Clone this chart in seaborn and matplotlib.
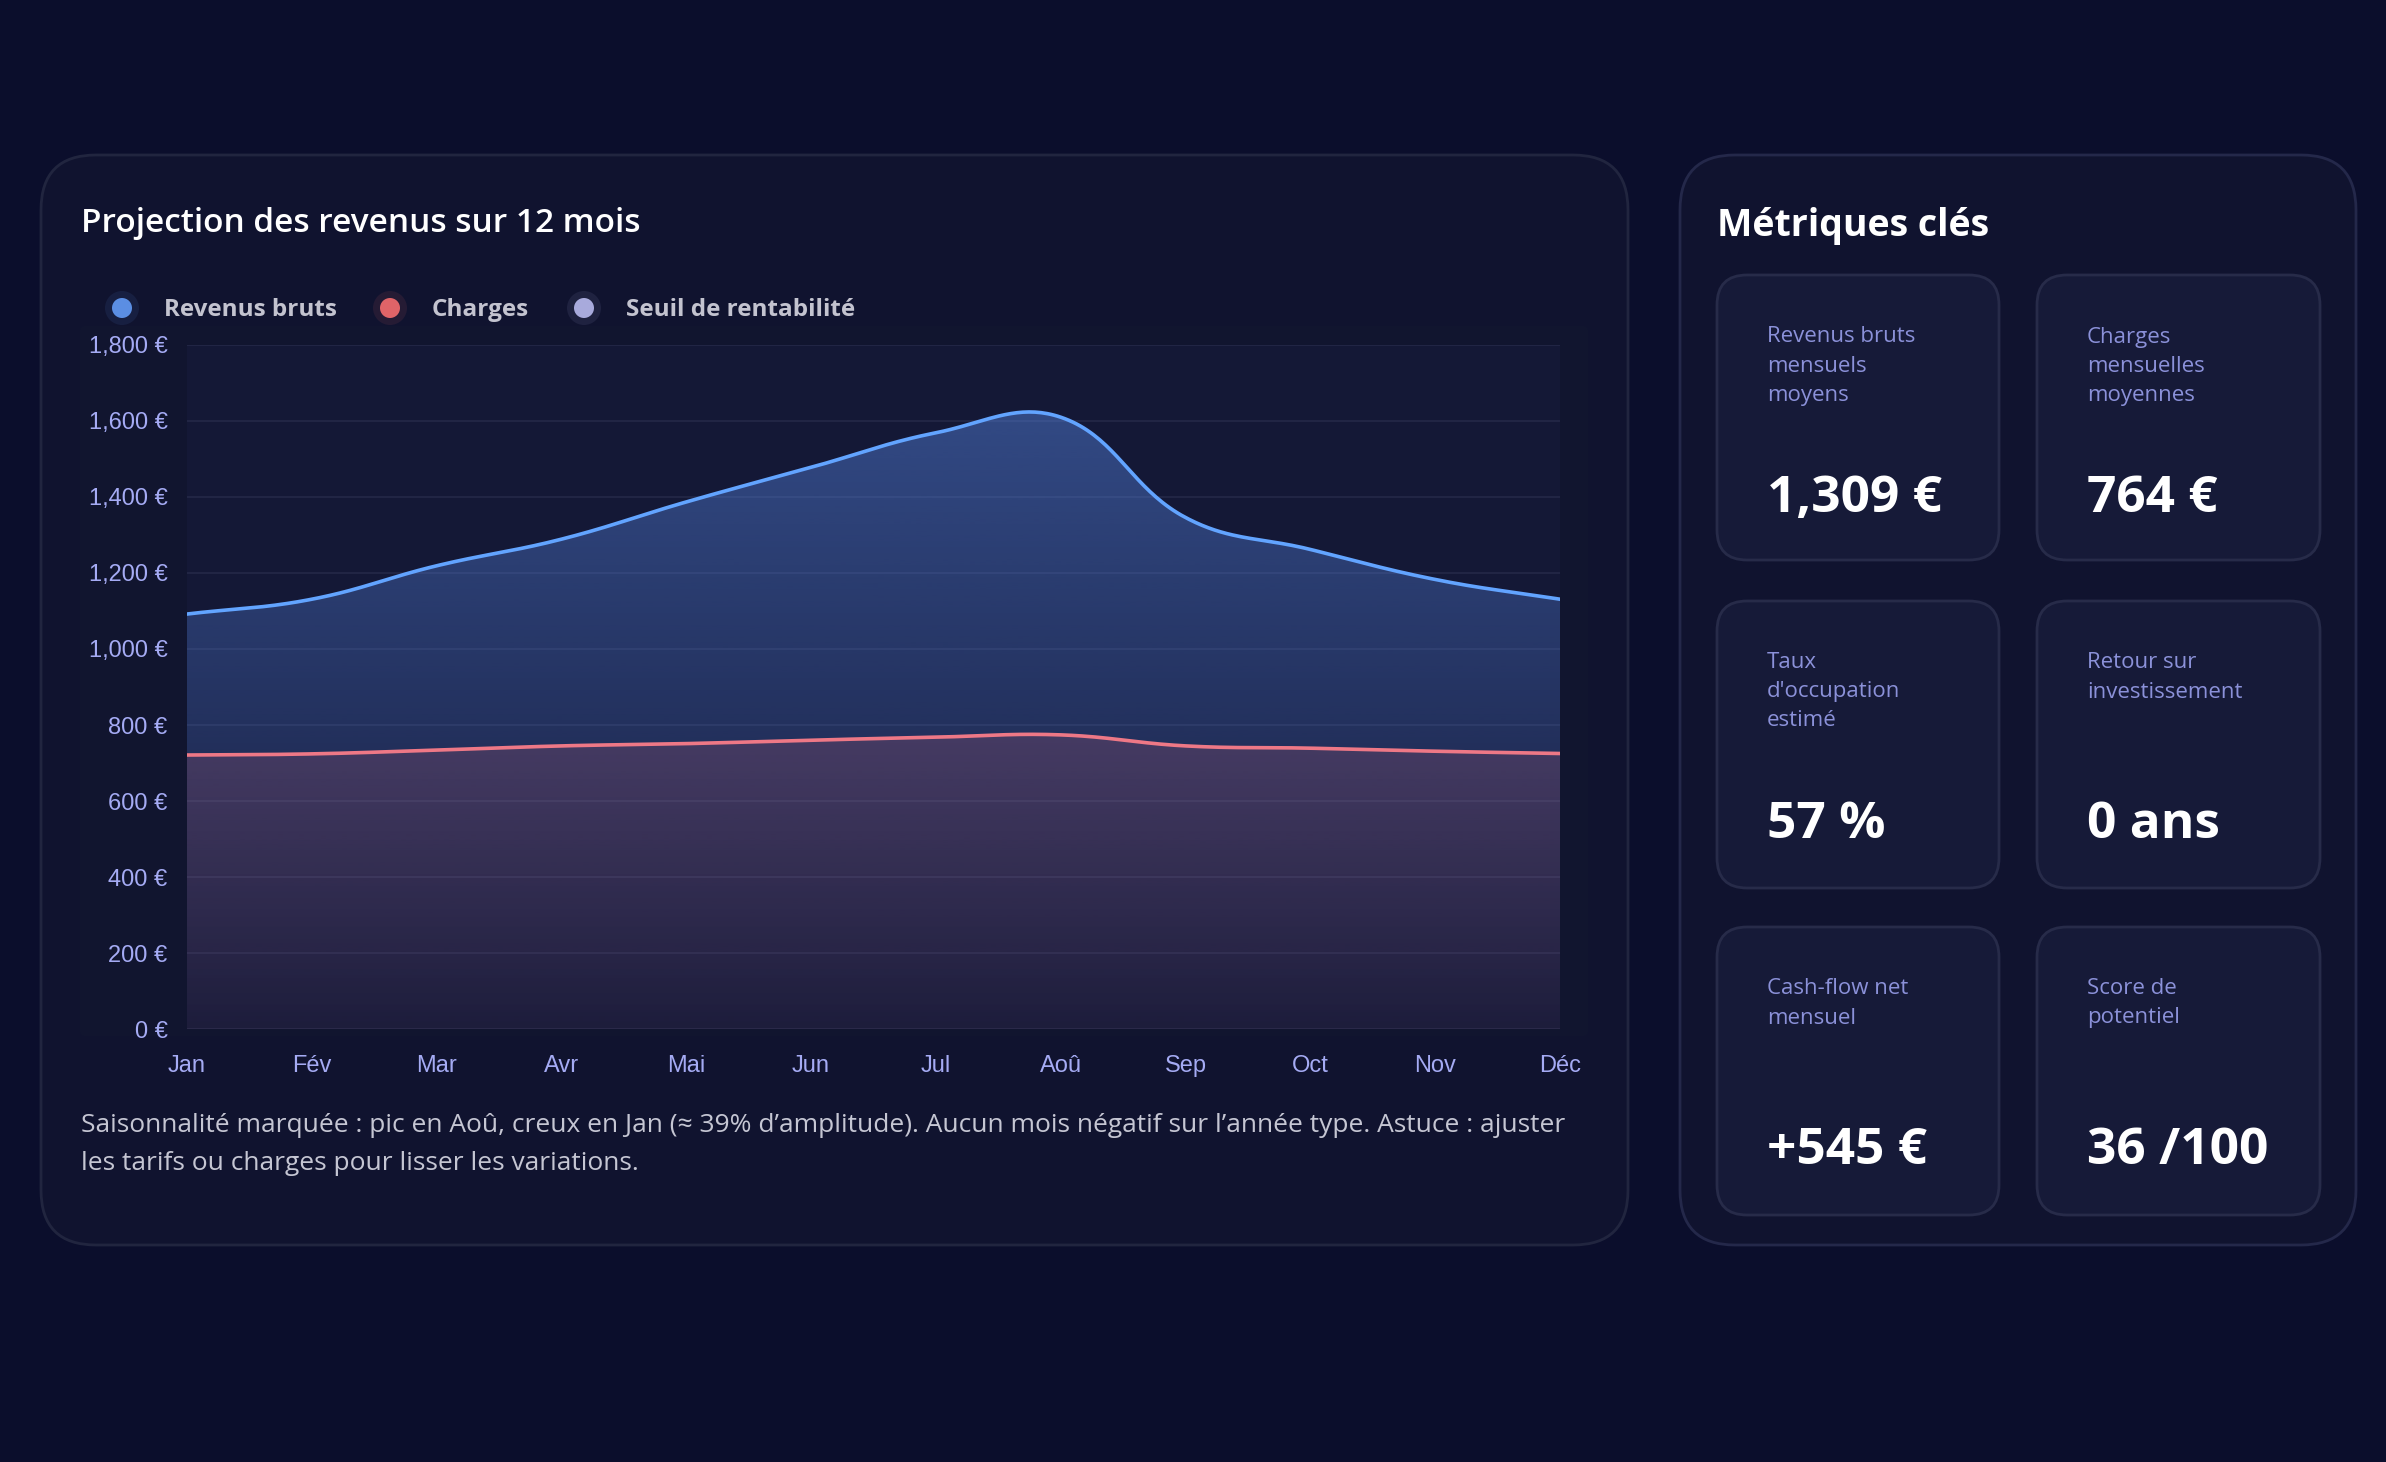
import numpy as np
import pandas as pd
import matplotlib
matplotlib.use("Agg")
import matplotlib.pyplot as plt
import seaborn as sns
from matplotlib.patches import FancyBboxPatch, Circle, Polygon

# ---------------- data ----------------
months = ["Jan", "Fév", "Mar", "Avr", "Mai", "Jun", "Jul", "Aoû", "Sep", "Oct", "Nov", "Déc"]
revenus = [1092, 1131, 1219, 1289, 1387, 1478, 1569, 1610, 1346, 1262, 1183, 1131]
charges = [721, 724, 734, 745, 751, 760, 768, 774, 745, 739, 731, 725]
y_ticks = [0, 200, 400, 600, 800, 1000, 1200, 1400, 1600, 1800]
legend_labels = ["Revenus bruts", "Charges", "Seuil de rentabilité"]
legend_colors = ["#5b8ee3", "#df6468", "#a8aadc"]
chart_title = "Projection des revenus sur 12 mois"
panel_title = "Métriques clés"
metric_labels = [
    ["Revenus bruts", "mensuels", "moyens"],
    ["Charges", "mensuelles", "moyennes"],
    ["Taux", "d'occupation", "estimé"],
    ["Retour sur", "investissement"],
    ["Cash-flow net", "mensuel"],
    ["Score de", "potentiel"],
]
metric_values = ["1,309 €", "764 €", "57 %", "0 ans", "+545 €", "36 /100"]
caption_lines = [
    "Saisonnalité marquée : pic en Aoû, creux en Jan (≈ 39% d’amplitude). Aucun mois négatif sur l’année type. Astuce : ajuster",
    "les tarifs ou charges pour lisser les variations.",
]

# ---------------- style ----------------
BG = "#0b0e2c"
CARD = "#10132f"
CARD_EDGE = "#21253f"
MCARD = "#161a38"
MCARD_EDGE = "#272b49"
GRID = "#252a49"
TICK_COLOR = "#a5abf4"
SANS = ["Open Sans", "DejaVu Sans"]

sns.set_theme(style="dark")
plt.rcParams["font.family"] = SANS

W, H = 2386, 1462
fig = plt.figure(figsize=(W / 100, H / 100), dpi=100, facecolor=BG)

bg = fig.add_axes([0, 0, 1, 1])
bg.set_xlim(0, W)
bg.set_ylim(H, 0)
bg.axis("off")
bg.set_zorder(0)
bg.patch.set_alpha(0)


def rbox(x0, y0, x1, y1, r, fc, ec, lw):
    p = FancyBboxPatch((x0, y0), x1 - x0, y1 - y0,
                       boxstyle=f"round,pad=0,rounding_size={r}",
                       facecolor=fc, edgecolor=ec, linewidth=lw)
    bg.add_patch(p)


# cards
rbox(41, 155, 1628, 1245, 55, CARD, CARD_EDGE, 2.0)
rbox(1680, 155, 2356, 1245, 55, CARD, "#24284a", 2.0)
rbox(80, 326, 1588, 1036, 4, "#11152f", "none", 0)

# metric cards
col_x = [(1717, 1999), (2037, 2320)]
row_y = [(275, 560), (601, 888), (927, 1215)]
for k in range(6):
    r, c = divmod(k, 2)
    x0, x1 = col_x[c]
    y0, y1 = row_y[r]
    rbox(x0, y0, x1, y1, 30, MCARD, MCARD_EDGE, 2.0)
    lx = x0 + 50
    for j, line in enumerate(metric_labels[k]):
        bg.text(lx, y0 + 62 + j * 29, line, color="#8b91d9", fontsize=16,
                family=SANS, va="center", ha="left")
    bg.text(lx, y0 + 224, metric_values[k], color="white", fontsize=37,
            family=SANS, weight="bold", va="center", ha="left")

# titles
bg.text(81, 224, chart_title, color="white", fontsize=24, family=SANS,
        weight="semibold", va="center", ha="left")
bg.text(1717, 226, panel_title, color="white", fontsize=27, family=SANS,
        weight="bold", va="center", ha="left")

# legend
dot_x = [122, 390, 584]
for lab, col, dx in zip(legend_labels, legend_colors, dot_x):
    bg.add_patch(Circle((dx, 308), 17, color=col, alpha=0.10, lw=0))
    bg.add_patch(Circle((dx, 308), 10, color=col, lw=0))
    bg.text(dx + 42, 310, lab, color="#c3c3cf", fontsize=17.5, family=SANS,
            weight="bold", va="center", ha="left")

# caption
for j, line in enumerate(caption_lines):
    bg.text(81, 1125 + j * 39, line, color="#c5c6d3", fontsize=19,
            family=SANS, va="center", ha="left")

# ---------------- chart ----------------
ax = fig.add_axes([187 / W, 1 - 1029 / H, (1560 - 187) / W, (1029 - 345) / H])
ax.set_zorder(1)
ax.set_facecolor("#141836")
ax.set_xlim(0, len(months) - 1)
ax.set_ylim(0, 1800)
for s in ax.spines.values():
    s.set_visible(False)
ax.set_yticks(y_ticks)
ax.set_yticklabels([f"{v:,} €" for v in y_ticks])
ax.set_xticks(range(len(months)))
ax.set_xticklabels(months)
for lab in ax.get_xticklabels() + ax.get_yticklabels():
    lab.set_family(["Liberation Sans", "DejaVu Sans"])
    lab.set_fontsize(17)
    lab.set_color(TICK_COLOR)
ax.tick_params(axis="y", length=10, width=1, color=GRID, pad=4)
ax.tick_params(axis="x", length=0, pad=19)
ax.grid(axis="y", color=GRID, linewidth=1.1)
ax.grid(axis="x", visible=False)
ax.set_xlabel("")
ax.set_ylabel("")


def chartjs_curve(values, tension=0.4, steps=40):
    xs = np.arange(len(values), dtype=float)
    pts = ax.transData.transform(np.column_stack([xs, np.asarray(values, float)]))
    n = len(pts)
    prev_cp, next_cp = [], []
    for i in range(n):
        p0 = pts[i - 1] if i > 0 else pts[i]
        p1 = pts[i]
        p2 = pts[i + 1] if i < n - 1 else pts[i]
        d01 = np.hypot(*(p1 - p0))
        d12 = np.hypot(*(p2 - p1))
        tot = d01 + d12
        s01 = d01 / tot if tot else 0
        s12 = d12 / tot if tot else 0
        prev_cp.append(p1 - tension * s01 * (p2 - p0))
        next_cp.append(p1 + tension * s12 * (p2 - p0))
    out = [pts[0]]
    t = np.linspace(0, 1, steps)[1:, None]
    for i in range(n - 1):
        a, b, c, d = pts[i], next_cp[i], prev_cp[i + 1], pts[i + 1]
        seg = ((1 - t) ** 3) * a + 3 * ((1 - t) ** 2) * t * b + 3 * (1 - t) * t ** 2 * c + t ** 3 * d
        out.extend(seg)
    out = np.array(out)
    data = ax.transData.inverted().transform(out)
    return data[:, 0], data[:, 1]


def grad_fill(xs, ys, rgb, a_top, a_bot, z):
    verts = [(xs[0], 0)] + list(zip(xs, ys)) + [(xs[-1], 0)]
    poly = Polygon(verts, closed=True, facecolor="none", edgecolor="none")
    ax.add_patch(poly)
    v = np.linspace(0, 1, 256)
    img = np.zeros((256, 1, 4))
    img[..., 0] = rgb[0] / 255
    img[..., 1] = rgb[1] / 255
    img[..., 2] = rgb[2] / 255
    img[:, 0, 3] = a_bot + (a_top - a_bot) * v
    im = ax.imshow(img, extent=[0, len(months) - 1, 0, 1800], origin="lower",
                   aspect="auto", interpolation="bilinear", zorder=z)
    im.set_clip_path(poly)


rx, ry = chartjs_curve(revenus)
cx, cy = chartjs_curve(charges)

grad_fill(rx, ry, (91, 141, 239), 0.47, 0.02, 1.5)
grad_fill(cx, cy, (240, 112, 128), 0.35, 0.04, 1.6)

df_r = pd.DataFrame({"x": rx, "y": ry})
df_c = pd.DataFrame({"x": cx, "y": cy})
sns.lineplot(data=df_r, x="x", y="y", sort=False, estimator=None, ax=ax,
             color="#62a4ff", linewidth=2.6, zorder=3)
sns.lineplot(data=df_c, x="x", y="y", sort=False, estimator=None, ax=ax,
             color="#ee7886", linewidth=2.6, zorder=3)
ax.set_xlim(0, len(months) - 1)
ax.set_ylim(0, 1800)
ax.set_xlabel("")
ax.set_ylabel("")

fig.savefig("out.png", dpi=100, facecolor=BG)
